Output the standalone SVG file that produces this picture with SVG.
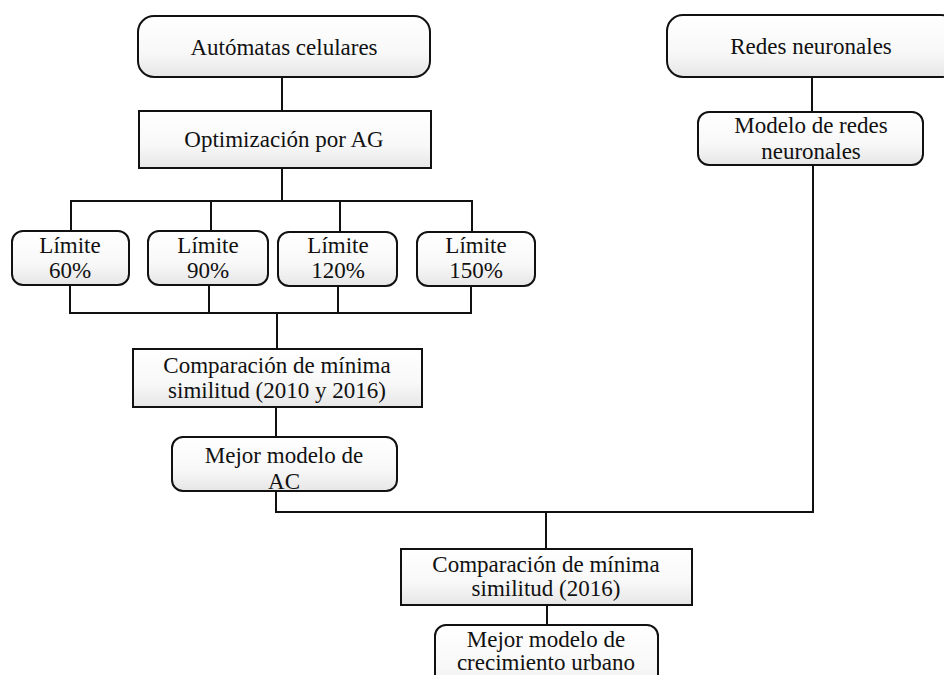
<svg xmlns="http://www.w3.org/2000/svg" width="944" height="675" viewBox="0 0 944 675">
  <style>
    .box { fill: url(#shade); stroke: #111; stroke-width: 2; }
    .wire { fill: none; stroke: #111; stroke-width: 2; }
    text { font-family: "Liberation Serif", "Times New Roman", serif; font-size: 23px; fill: #111; text-anchor: middle; }
  </style>
  <defs>
    <linearGradient id="shade" x1="0" y1="0" x2="0" y2="1">
      <stop offset="0" stop-color="#ffffff"/>
      <stop offset="0.6" stop-color="#f8f8f8"/>
      <stop offset="1" stop-color="#e6e6e6"/>
    </linearGradient>
  </defs>
  <rect width="944" height="675" fill="#ffffff"/>

  <g id="connectors">
    <path class="wire" d="M282 77V111"/>
    <path class="wire" d="M282 168V201M71 232V201H472V232M211 201V232M340 201V232"/>
    <path class="wire" d="M70 285V313H471V286M209 286V313M338 286V313M277 313V349"/>
    <path class="wire" d="M276 407V437"/>
    <path class="wire" d="M812 77V112"/>
    <path class="wire" d="M813 165V512H276V491"/>
    <path class="wire" d="M546 512V549"/>
    <path class="wire" d="M547 605V625"/>
  </g>

  <g id="automatas">
    <rect class="box" x="138" y="16" width="292" height="61" rx="16"/>
    <text x="284" y="55">Autómatas celulares</text>
  </g>
  <g id="optimizacion">
    <rect class="box" x="139" y="111" width="292" height="57"/>
    <text x="284" y="147">Optimización por AG</text>
  </g>
  <g id="redes">
    <rect class="box" x="667" y="15" width="290" height="62" rx="16"/>
    <text x="811" y="54">Redes neuronales</text>
  </g>
  <g id="modelo-redes">
    <rect class="box" x="698" y="112" width="225" height="53" rx="11"/>
    <text x="811" y="133">Modelo de redes</text>
    <text x="811" y="159">neuronales</text>
  </g>
  <g id="limite-60">
    <rect class="box" x="12" y="231" width="117" height="54" rx="11"/>
    <text x="70" y="253">Límite</text>
    <text x="70" y="278">60%</text>
  </g>
  <g id="limite-90">
    <rect class="box" x="148" y="231" width="120" height="54" rx="11"/>
    <text x="208" y="253">Límite</text>
    <text x="208" y="278">90%</text>
  </g>
  <g id="limite-120">
    <rect class="box" x="278" y="232" width="119" height="54" rx="11"/>
    <text x="338" y="253">Límite</text>
    <text x="338" y="278">120%</text>
  </g>
  <g id="limite-150">
    <rect class="box" x="417" y="232" width="118" height="54" rx="11"/>
    <text x="476" y="253">Límite</text>
    <text x="476" y="278">150%</text>
  </g>
  <g id="comparacion-ac">
    <rect class="box" x="133" y="349" width="289" height="58"/>
    <text x="277" y="373">Comparación de mínima</text>
    <text x="277" y="398">similitud (2010 y 2016)</text>
  </g>
  <g id="mejor-ac">
    <rect class="box" x="172" y="437" width="225" height="54" rx="11"/>
    <text x="284" y="463">Mejor modelo de</text>
    <text x="284" y="489">AC</text>
  </g>
  <g id="comparacion-final">
    <rect class="box" x="401" y="549" width="291" height="56"/>
    <text x="546" y="572">Comparación de mínima</text>
    <text x="546" y="596">similitud (2016)</text>
  </g>
  <g id="mejor-crecimiento">
    <rect class="box" x="435" y="625" width="223" height="70" rx="11"/>
    <text x="546" y="647">Mejor modelo de</text>
    <text x="546" y="670">crecimiento urbano</text>
  </g>
</svg>
